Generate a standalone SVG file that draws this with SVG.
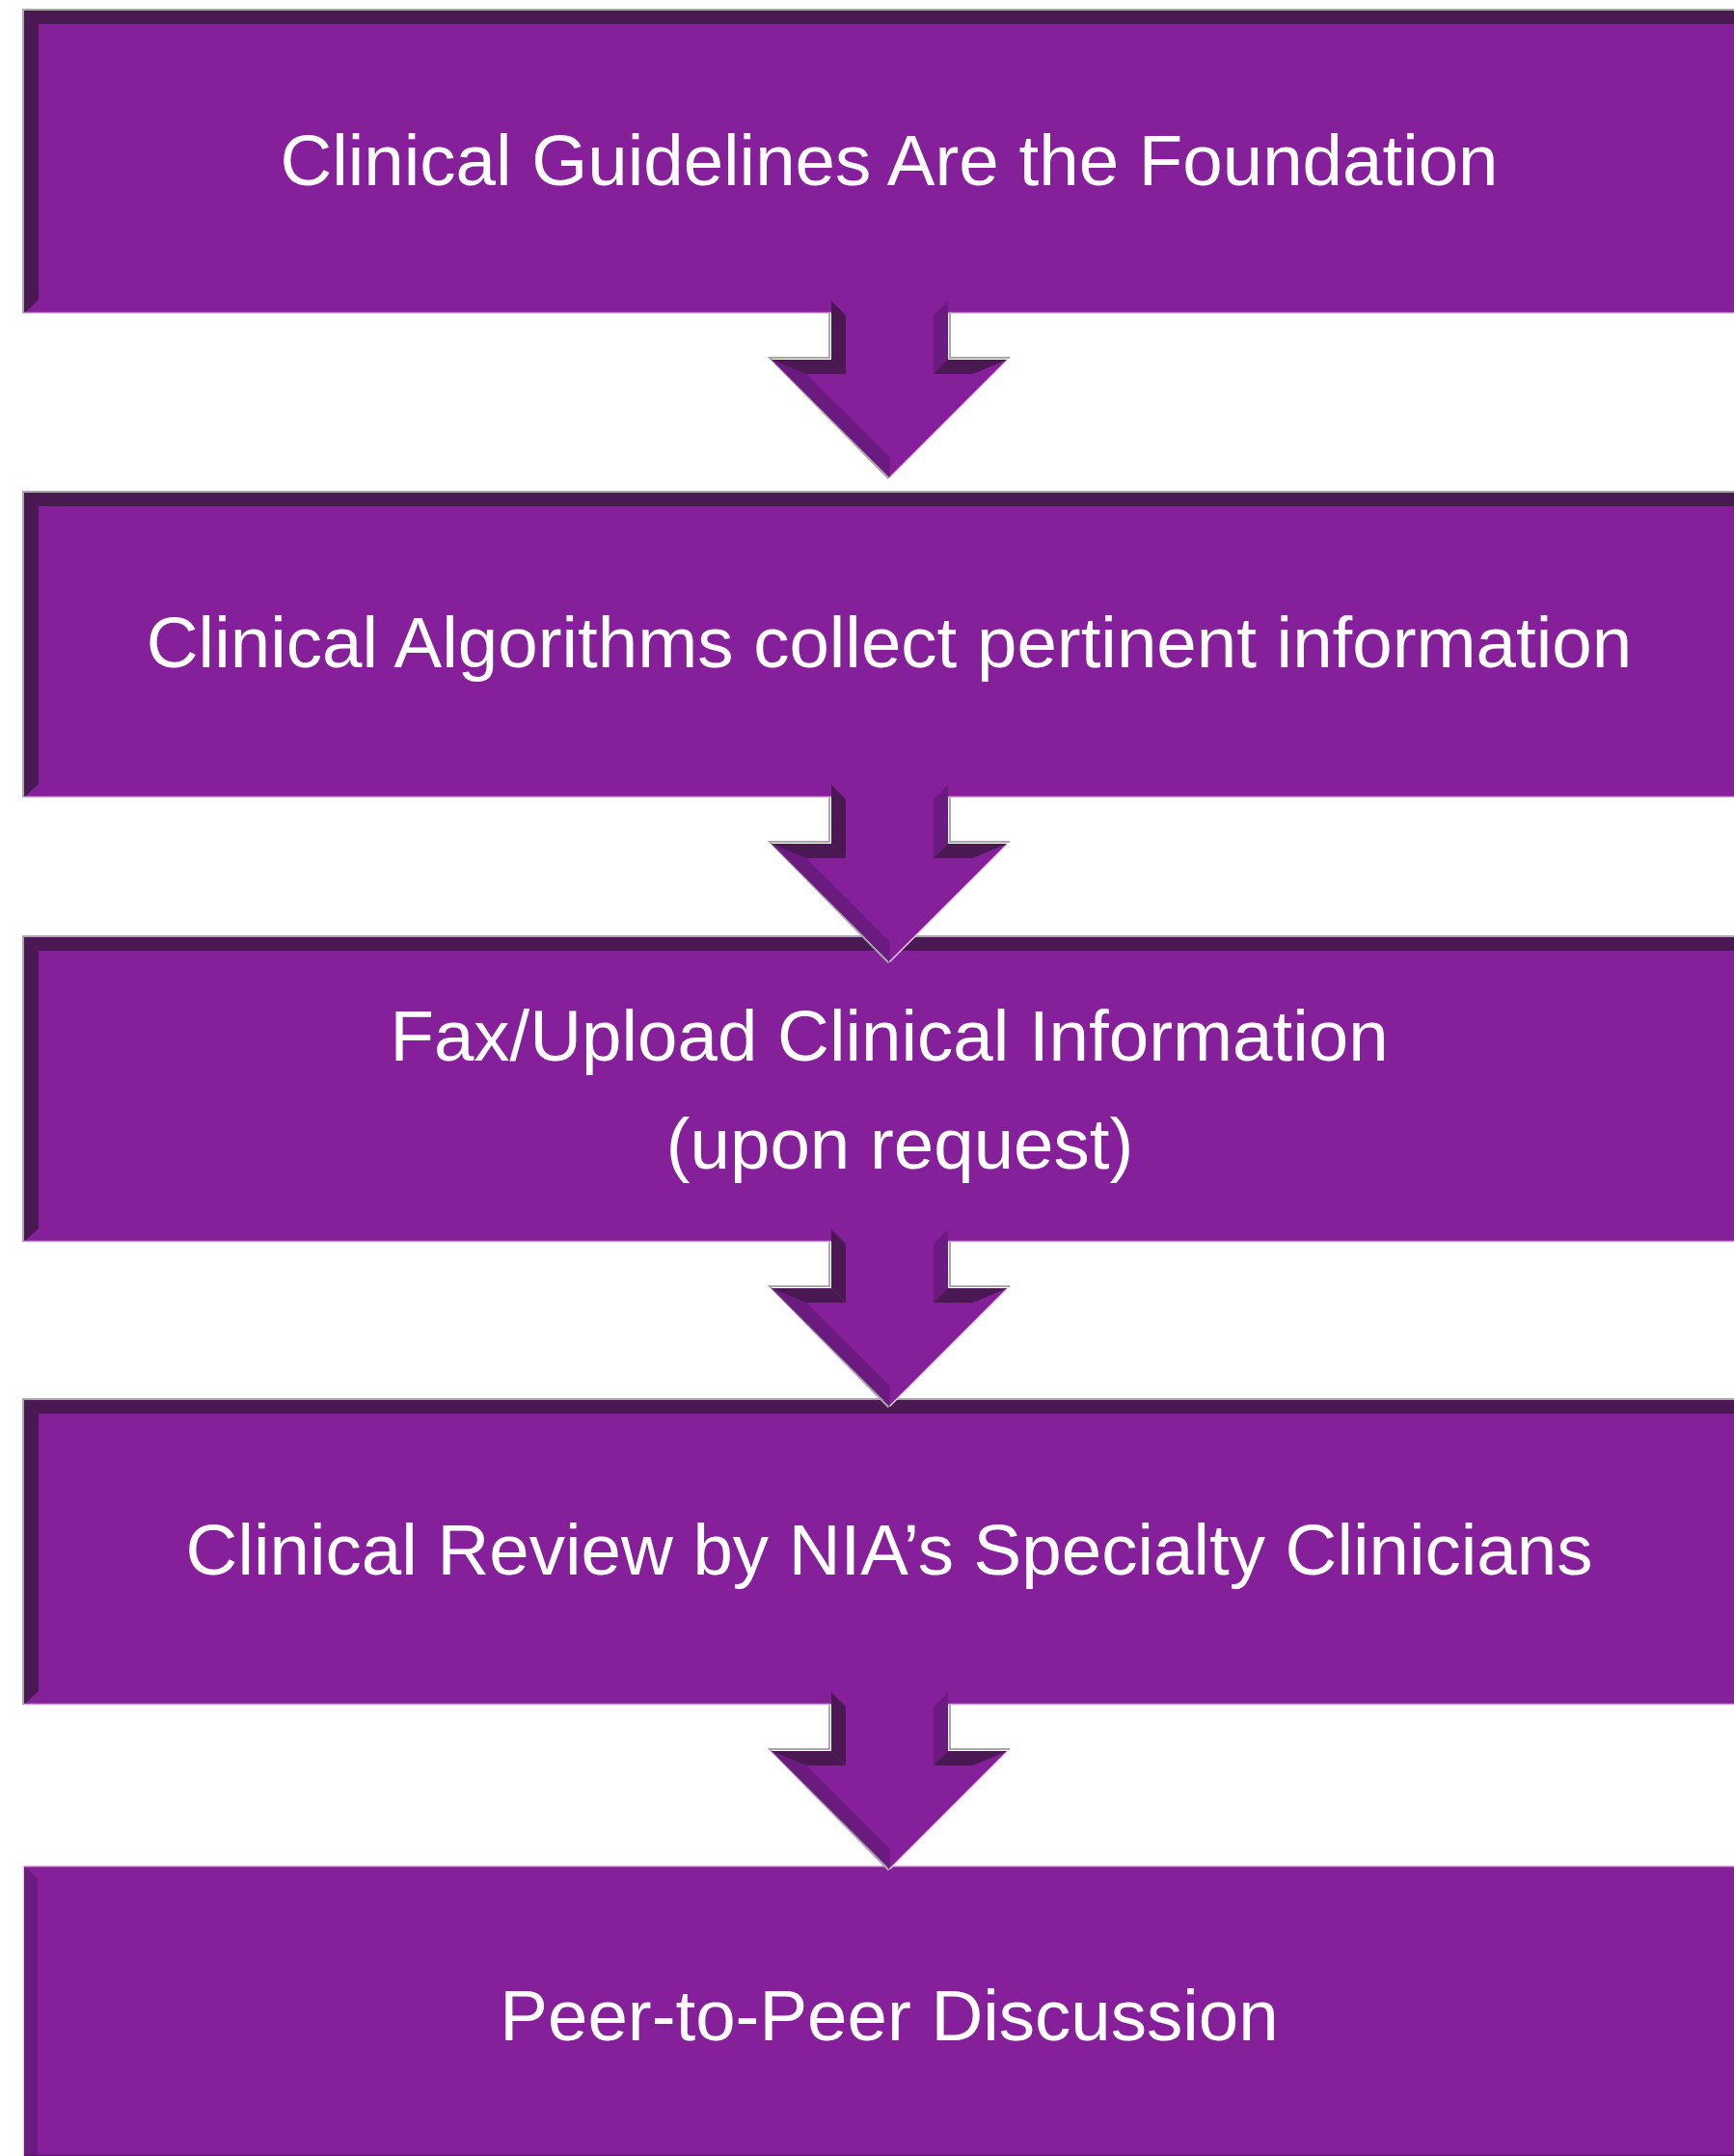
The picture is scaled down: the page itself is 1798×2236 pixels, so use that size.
<svg xmlns="http://www.w3.org/2000/svg" xmlns:xlink="http://www.w3.org/1999/xlink" width="1798" height="2236" viewBox="0 0 1798 2236">
<style>
.main{fill:#86209A}
.dark{fill:#4A1852}
.med{fill:#6B1A7F}
.edge{fill:none;stroke:#A8A8A8;stroke-width:2}
.lbl{font-family:"Liberation Sans",Arial,Helvetica,sans-serif;font-size:74.5px;fill:#FFFFFF;text-anchor:middle}
</style>
<defs>
<g id="arrow">
<polyline class="edge" points="860,13 860,59 798,59 921.5,184.5"/>
<polyline class="edge" points="985,13 985,59 1047,59"/>
<polygon class="main" points="862,0 983,0 983,61 1045,61 922.5,183.5 800,61 862,61"/>
<polygon class="med" points="983,0 983,61 968,76 968,15"/>
<polygon class="dark" points="983,61 1045,61 1008.8,76 968,76"/>
<polygon class="main" points="1045,61 922.5,183.5 922.5,162.3 1008.8,76"/>
<polygon class="med" points="922.5,183.5 800,61 836.2,76 922.5,162.3"/>
<polygon class="dark" points="800,61 862,61 877,76 836.2,76"/>
<polygon class="dark" points="862,61 862,0 877,15 877,76"/>
<line x1="1045" y1="61" x2="922.5" y2="183.5" stroke="#E8D4EC" stroke-width="1.5"/>
</g>
</defs>

<g id="node1">
<path class="edge" d="M24,325 V10 H1798"/>
<rect class="main" x="25" y="11" width="1773" height="314"/>
<polygon class="dark" points="25,11 1798,11 1798,25 40,25"/>
<polygon class="dark" points="25,11 40,25 40,311 25,325"/>
<line x1="25" y1="324.5" x2="1798" y2="324.5" stroke="#C9A3D3" stroke-width="1.5"/>
<text class="lbl" x="922" y="192">Clinical Guidelines Are the Foundation</text>
</g>

<g id="node2">
<path class="edge" d="M24,827 V510 H1798"/>
<rect class="main" x="25" y="511" width="1773" height="316"/>
<polygon class="dark" points="25,511 1798,511 1798,525 40,525"/>
<polygon class="dark" points="25,511 40,525 40,813 25,827"/>
<line x1="25" y1="826.5" x2="1798" y2="826.5" stroke="#C9A3D3" stroke-width="1.5"/>
<text class="lbl" x="922" y="692">Clinical Algorithms collect pertinent information</text>
</g>

<g id="node3">
<path class="edge" d="M24,1288 V971 H1798"/>
<rect class="main" x="25" y="972" width="1773" height="316"/>
<polygon class="dark" points="25,972 1798,972 1798,986 40,986"/>
<polygon class="dark" points="25,972 40,986 40,1274 25,1288"/>
<line x1="25" y1="1287.5" x2="1798" y2="1287.5" stroke="#C9A3D3" stroke-width="1.5"/>
<text class="lbl" x="922" y="1100">Fax/Upload Clinical Information</text>
<text class="lbl" x="933" y="1212">(upon request)</text>
</g>

<g id="node4">
<path class="edge" d="M24,1768 V1451 H1798"/>
<rect class="main" x="25" y="1452" width="1773" height="316"/>
<polygon class="dark" points="25,1452 1798,1452 1798,1466 40,1466"/>
<polygon class="dark" points="25,1452 40,1466 40,1754 25,1768"/>
<line x1="25" y1="1767.5" x2="1798" y2="1767.5" stroke="#C9A3D3" stroke-width="1.5"/>
<text class="lbl" x="922" y="1633">Clinical Review by NIA’s Specialty Clinicians</text>
</g>

<g id="node5">
<path d="M24.5,2236 V1935" fill="none" stroke="#D8D8D8" stroke-width="2"/>
<rect class="main" x="25" y="1935" width="1773" height="301"/>
<polygon class="med" points="25,1935 39,1948 39,2236 25,2236"/>
<line x1="25" y1="1935.5" x2="1798" y2="1935.5" stroke="#C9A3D3" stroke-width="1.5"/>
<line x1="25" y1="2235.5" x2="1798" y2="2235.5" stroke="#5A1A66" stroke-width="1.5"/>
<text class="lbl" x="922" y="2116">Peer-to-Peer Discussion</text>
</g>

<g id="connectors">
<use xlink:href="#arrow" href="#arrow" transform="translate(0,312)"/>
<use xlink:href="#arrow" href="#arrow" transform="translate(0,814)"/>
<use xlink:href="#arrow" href="#arrow" transform="translate(0,1275)"/>
<use xlink:href="#arrow" href="#arrow" transform="translate(0,1755)"/>
</g>
</svg>
